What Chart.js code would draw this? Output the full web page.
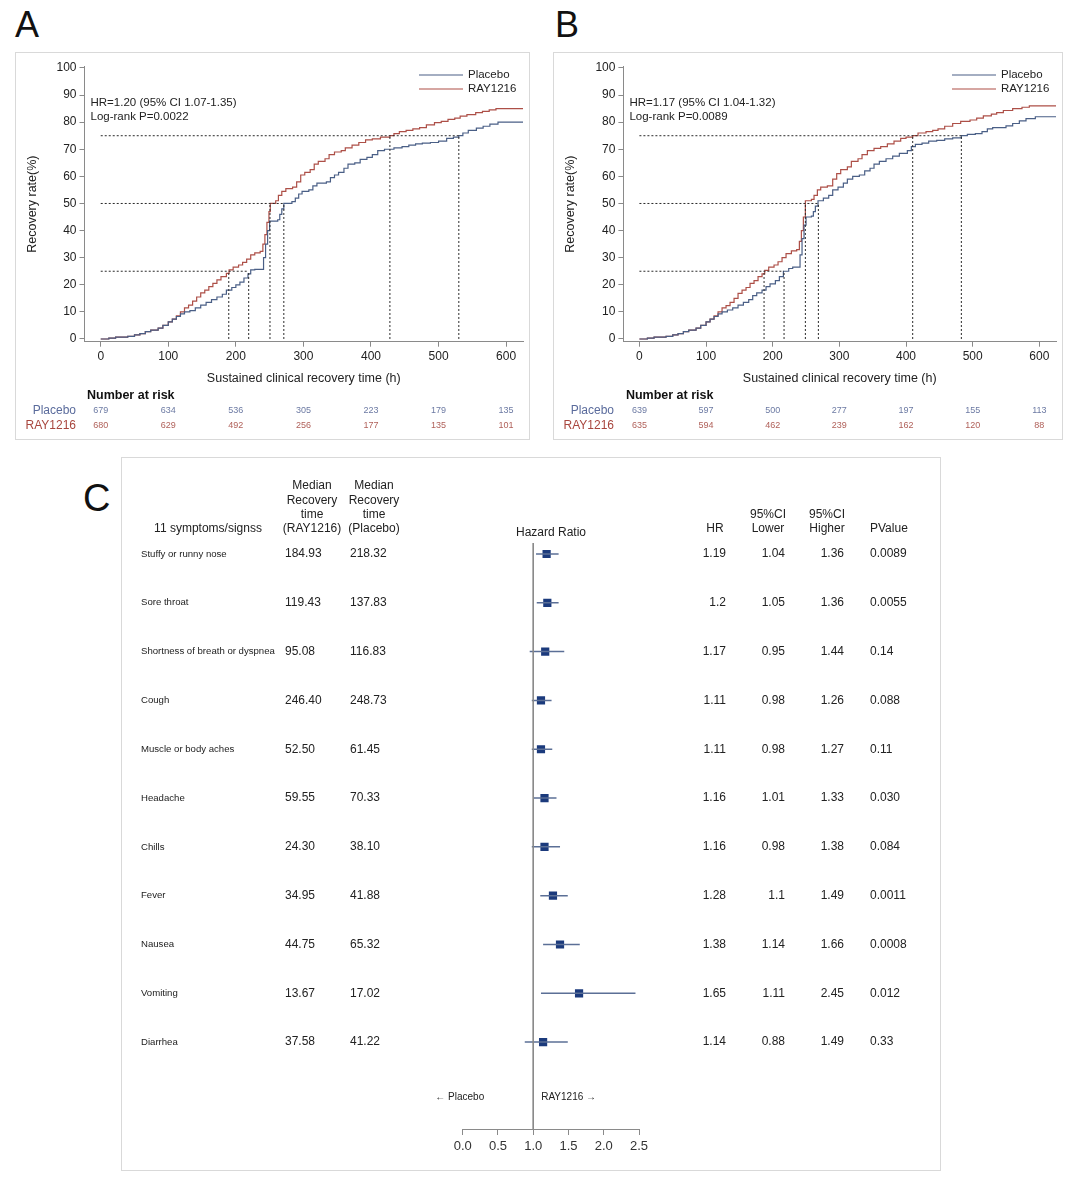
<!DOCTYPE html>
<html>
<head>
<meta charset="utf-8">
<script src="https://cdn.jsdelivr.net/npm/chart.js@4.4.1/dist/chart.umd.min.js"></script>
<style>
  body { margin: 0; background: #fff; font-family: "Liberation Sans", Arial, sans-serif; }
  #page { position: relative; width: 1080px; height: 1192px; overflow: hidden; }
  .letra { position: absolute; font-size: 36px; line-height: 36px; color: #111; }
  .painel { position: absolute; outline: 1px solid #d9d9d9; outline-offset: -1px; }
  .painel canvas { position: absolute; left: 0; top: 0; }
</style>
</head>
<body>
<div id="page">
  <div class="letra" style="left:15px; top:7px;">A</div>
  <div class="letra" style="left:555px; top:7px;">B</div>
  <div class="letra" style="left:83px; top:480px; font-size:38px;">C</div>

  <div class="painel" style="left:15px; top:52px; width:515px; height:388px;">
    <canvas id="chartA" width="515" height="388"></canvas>
  </div>
  <div class="painel" style="left:553px; top:52px; width:510px; height:388px;">
    <canvas id="chartB" width="510" height="388"></canvas>
  </div>
  <div class="painel" style="left:121px; top:457px; width:820px; height:714px;">
    <canvas id="chartC" width="820" height="714"></canvas>
  </div>
</div>

<script>
// =========================================
// DATA - PANELS A AND B (recovery curves)
// =========================================
const xTicks = [0, 100, 200, 300, 400, 500, 600];
const yTicks = [0, 10, 20, 30, 40, 50, 60, 70, 80, 90, 100];
const medianLevels = [25, 50, 75];

// Panel A - Placebo
const timePlaceboA = [0, 12, 22, 40, 50, 58, 66, 74, 85, 92, 100, 106, 112, 118, 124, 132, 140, 148, 156, 164, 172, 180, 186, 194, 200, 206, 212, 218, 222, 228, 238, 241, 244, 247, 250, 262, 265, 268, 271, 283, 288, 293, 298, 308, 314, 320, 334, 340, 346, 352, 360, 366, 376, 384, 394, 402, 410, 420, 434, 446, 456, 466, 476, 488, 500, 512, 522, 530, 536, 544, 556, 566, 576, 588, 625];
const ratePlaceboA = [0, 0.3, 0.7, 1, 1.5, 2, 2.7, 3.3, 4, 5, 6.3, 7.3, 8.3, 9.3, 10, 10.5, 11.5, 12.5, 13.5, 14.5, 15.5, 16.5, 18, 19, 20, 21, 22.5, 24, 25.5, 25.7, 25.7, 30, 35, 40, 43.5, 44, 46, 48, 50, 50.7, 52, 53.5, 54.5, 55, 56.5, 57.5, 58, 59.5, 60.5, 61.5, 63, 64.5, 65, 66.3, 67, 68, 69.5, 70, 70.5, 71, 71.5, 72, 72.3, 72.5, 73, 74, 74.5, 75, 76, 77, 77.8, 78.5, 79.3, 80, 80];

// Panel A - RAY1216
const timeRayA = [0, 12, 22, 40, 50, 58, 66, 74, 85, 92, 100, 106, 112, 118, 124, 130, 136, 142, 148, 154, 160, 166, 172, 178, 186, 190, 196, 204, 210, 216, 222, 228, 236, 240, 243, 246, 249, 251, 259, 263, 268, 274, 284, 290, 296, 302, 310, 316, 322, 332, 338, 346, 356, 362, 372, 382, 392, 402, 414, 428, 434, 442, 452, 462, 472, 482, 494, 504, 514, 524, 532, 542, 555, 565, 575, 585, 625];
const rateRayA = [0, 0.3, 0.7, 1, 1.5, 2, 2.7, 3.3, 4, 5, 6.3, 7.3, 8.5, 10, 11.5, 12.5, 14, 15.5, 17, 18, 19.3, 20.5, 21.8, 23, 24.2, 25.5, 26.5, 27.3, 28.3, 29.5, 31, 31.8, 32.3, 35, 38.5, 43, 47, 50, 51, 53, 54.5, 55.5, 56, 58, 60.5, 61.5, 62.5, 64.5, 65.5, 66.5, 68, 69, 69.5, 70.5, 71.5, 72.5, 73.5, 73.8, 74.5, 75, 75.8, 76.5, 77, 77.5, 78, 79, 79.8, 80.3, 81, 81.5, 82.2, 82.8, 83.5, 84, 84.5, 85, 85];

// Panel B - Placebo
const timePlaceboB = [0, 12, 22, 40, 50, 58, 66, 74, 85, 92, 100, 106, 112, 118, 124, 132, 140, 148, 156, 164, 170, 176, 184, 190, 196, 204, 210, 216, 224, 230, 238, 241, 244, 247, 250, 258, 261, 264, 268, 276, 284, 290, 298, 306, 312, 320, 330, 338, 346, 352, 360, 370, 380, 390, 402, 408, 414, 424, 434, 446, 458, 470, 483, 492, 504, 514, 522, 530, 540, 550, 560, 570, 580, 594, 625];
const ratePlaceboB = [0, 0.3, 0.7, 1, 1.5, 2, 2.7, 3.3, 4, 5, 6.3, 7.3, 8.3, 9.3, 10, 10.7, 11.5, 12.5, 13.5, 14.5, 16, 17, 18, 19.3, 20.3, 21.5, 23, 25, 26, 26.5, 26.5, 31, 37, 42, 45, 45.3, 47, 49, 51, 52, 53, 55, 56, 57.5, 59, 60, 60.5, 62, 63, 64.5, 65.5, 66.5, 67.5, 68.5, 69.5, 71, 71.8, 72.3, 73, 73.3, 73.8, 74.2, 75, 75.5, 75.8, 76.5, 77.5, 78, 78, 78.6, 79.5, 80.5, 81.3, 82, 82];

// Panel B - RAY1216
const timeRayB = [0, 12, 22, 40, 50, 58, 66, 74, 85, 92, 100, 106, 112, 118, 124, 130, 136, 142, 148, 154, 160, 166, 172, 178, 184, 188, 194, 202, 208, 214, 220, 228, 236, 240, 243, 246, 249, 258, 262, 267, 272, 282, 290, 296, 302, 312, 318, 328, 334, 342, 352, 362, 372, 382, 392, 400, 410, 418, 430, 440, 448, 458, 470, 482, 496, 506, 516, 528, 536, 546, 560, 574, 585, 625];
const rateRayB = [0, 0.3, 0.7, 1, 1.5, 2, 2.7, 3.3, 4, 5, 6.3, 7.3, 8.5, 10, 11.5, 12.3, 13.5, 15, 16.8, 18, 19, 20.5, 21.5, 23, 24, 25.3, 26.5, 27.3, 28.5, 30, 31.5, 32.5, 33, 36, 40, 45, 51, 51.5, 53, 55, 56, 56.5, 59, 61, 62.5, 63.5, 65.5, 66.5, 68, 69.5, 70.3, 71, 72, 73, 74, 74.5, 75, 76, 76.5, 77, 77.5, 78.5, 79.5, 80.3, 80.8, 81.5, 82.3, 83, 83.5, 84.3, 85, 85.5, 86, 86];

// Medians (time at 25%, 50%, 75%)
const medianRayA = [189.5, 250.5, 428];
const medianPlaceboA = [219, 271, 530];
const medianRayB = [187, 249, 410];
const medianPlaceboB = [217, 268.5, 483];

// Number at risk
const riskPlaceboA = [679, 634, 536, 305, 223, 179, 135];
const riskRayA = [680, 629, 492, 256, 177, 135, 101];
const riskPlaceboB = [639, 597, 500, 277, 197, 155, 113];
const riskRayB = [635, 594, 462, 239, 162, 120, 88];

// =========================================
// DATA - PANEL C (forest plot)
// =========================================
const symptoms = ["Stuffy or runny nose", "Sore throat", "Shortness of breath or dyspnea", "Cough", "Muscle or body aches", "Headache", "Chills", "Fever", "Nausea", "Vomiting", "Diarrhea"];
const medianTimeRay = ["184.93", "119.43", "95.08", "246.40", "52.50", "59.55", "24.30", "34.95", "44.75", "13.67", "37.58"];
const medianTimePlacebo = ["218.32", "137.83", "116.83", "248.73", "61.45", "70.33", "38.10", "41.88", "65.32", "17.02", "41.22"];
const hazardRatio = [1.19, 1.2, 1.17, 1.11, 1.11, 1.16, 1.16, 1.28, 1.38, 1.65, 1.14];
const ciLower = [1.04, 1.05, 0.95, 0.98, 0.98, 1.01, 0.98, 1.1, 1.14, 1.11, 0.88];
const ciHigher = [1.36, 1.36, 1.44, 1.26, 1.27, 1.33, 1.38, 1.49, 1.66, 2.45, 1.49];
const pValues = ["0.0089", "0.0055", "0.14", "0.088", "0.11", "0.030", "0.084", "0.0011", "0.0008", "0.012", "0.33"];
const hrTicks = [0, 0.5, 1, 1.5, 2, 2.5];

// =========================================
// STYLE
// =========================================
const FONTE = '"Liberation Sans", Arial, sans-serif';
const COR_PLACEBO = "#4a5f86";
const COR_RAY = "#ad4f47";
const COR_EIXO = "#8a8a8a";

const toPoints = (t, v) => t.map((x, i) => ({ x: x, y: v[i] }));

// =========================================
// KAPLAN-MEIER STYLE CHART (A and B)
// =========================================
function criarKM(id, cfg) {
    const el = document.getElementById(id);

    // dotted median guide lines
    const medianSets = [];
    medianLevels.forEach((lvl, i) => {
        const r = cfg.medRay[i];
        const p = cfg.medPla[i];
        const segs = [[[0, lvl], [Math.max(r, p), lvl]], [[r, 0], [r, lvl]], [[p, 0], [p, lvl]]];
        segs.forEach(seg => {
            medianSets.push({
                data: seg.map(([x, y]) => ({ x, y })),
                showLine: true, borderColor: "#2a2a2a", borderWidth: 1,
                borderDash: [2, 2], pointRadius: 0, fill: false
            });
        });
    });

    const textos = {
        id: "textosKM",
        afterDraw(chart) {
            const { ctx, chartArea } = chart;
            const x = chart.scales.x;
            ctx.save();
            ctx.textBaseline = "middle";

            // HR annotation
            ctx.fillStyle = "#222";
            ctx.font = "11.5px " + FONTE;
            ctx.textAlign = "left";
            ctx.fillText(cfg.hrText, chartArea.left + 6, 51);
            ctx.fillText(cfg.pText, chartArea.left + 6, 65);

            // legend
            const leg = [["Placebo", COR_PLACEBO, 23], ["RAY1216", COR_RAY, 37]];
            leg.forEach(([nome, cor, yy]) => {
                ctx.strokeStyle = cor;
                ctx.lineWidth = 1.2;
                ctx.beginPath();
                ctx.moveTo(chartArea.right - 104, yy);
                ctx.lineTo(chartArea.right - 60, yy);
                ctx.stroke();
                ctx.fillStyle = "#222";
                ctx.fillText(nome, chartArea.right - 55, yy);
            });

            // number at risk
            ctx.font = "bold 12.5px " + FONTE;
            ctx.fillStyle = "#111";
            ctx.fillText("Number at risk", chartArea.left + 2.5, 344);

            ctx.font = "12px " + FONTE;
            ctx.textAlign = "right";
            ctx.fillStyle = "#5a6b9c";
            ctx.fillText("Placebo", 61, 359);
            ctx.fillStyle = "#a8463e";
            ctx.fillText("RAY1216", 61, 374);

            ctx.font = "9px " + FONTE;
            ctx.textAlign = "center";
            xTicks.forEach((t, i) => {
                const px = x.getPixelForValue(t);
                ctx.fillStyle = "#6c7aa3";
                ctx.fillText(String(cfg.riskPla[i]), px, 359);
                ctx.fillStyle = "#b0615a";
                ctx.fillText(String(cfg.riskRay[i]), px, 374);
            });
            ctx.restore();
        }
    };

    new Chart(el, {
        type: "scatter",
        data: {
            datasets: [
                ...medianSets,
                {
                    label: "Placebo", data: cfg.placebo, showLine: true, stepped: "before",
                    borderColor: COR_PLACEBO, borderWidth: 1.2, pointRadius: 0, fill: false
                },
                {
                    label: "RAY1216", data: cfg.ray, showLine: true, stepped: "before",
                    borderColor: COR_RAY, borderWidth: 1.2, pointRadius: 0, fill: false
                }
            ]
        },
        options: {
            responsive: false,
            animation: false,
            layout: { padding: { top: 14.6, right: cfg.padRight, bottom: 48.3, left: 0 } },
            plugins: { legend: { display: false }, tooltip: { enabled: false } },
            scales: {
                x: {
                    type: "linear", min: -24, max: 625,
                    afterBuildTicks: s => { s.ticks = xTicks.map(v => ({ value: v })); },
                    afterFit: s => { s.height = 50; },
                    grid: { drawOnChartArea: false, color: COR_EIXO, tickLength: 5 },
                    border: { color: COR_EIXO },
                    ticks: { color: "#222", font: { size: 12, family: FONTE }, padding: 3, maxRotation: 0, autoSkip: false },
                    title: {
                        display: true, text: "Sustained clinical recovery time (h)", color: "#222",
                        font: { size: 12.5, family: FONTE }, padding: { top: 0, bottom: 5.5 }
                    }
                },
                y: {
                    type: "linear", min: -1, max: 100.5,
                    afterBuildTicks: s => { s.ticks = yTicks.map(v => ({ value: v })); },
                    afterFit: s => { s.width = cfg.yWidth; },
                    grid: { drawOnChartArea: false, color: COR_EIXO, tickLength: 5 },
                    border: { color: COR_EIXO },
                    ticks: { color: "#222", font: { size: 12, family: FONTE }, padding: 3 },
                    title: {
                        display: true, text: "Recovery rate(%)", color: "#222",
                        font: { size: 12.5, family: FONTE }, padding: { top: 10, bottom: 0 }
                    }
                }
            }
        },
        plugins: [textos]
    });
}

// =========================================
// FOREST PLOT (C)
// =========================================
function criarForest() {
    const el = document.getElementById("chartC");
    const yTopo = -0.225;
    const yBase = 11.78;

    const ciSets = symptoms.map((_, i) => ({
        data: [{ x: ciLower[i], y: i }, { x: ciHigher[i], y: i }],
        showLine: true, borderColor: "#5b6f96", borderWidth: 1.5, pointRadius: 0, fill: false
    }));

    const tabela = {
        id: "tabelaForest",
        afterDraw(chart) {
            const { ctx } = chart;
            const x = chart.scales.x;
            const y = chart.scales.y;
            ctx.save();
            ctx.fillStyle = "#222";
            ctx.textBaseline = "middle";

            // headers
            ctx.font = "12px " + FONTE;
            ctx.textAlign = "center";
            ctx.fillText("11 symptoms/signss", 87, 72);
            ["Median", "Recovery", "time", "(RAY1216)"].forEach((t, k) => ctx.fillText(t, 191, 29 + k * 14.3));
            ["Median", "Recovery", "time", "(Placebo)"].forEach((t, k) => ctx.fillText(t, 253, 29 + k * 14.3));
            ctx.fillText("Hazard Ratio", 430, 76);
            ctx.fillText("HR", 594, 72);
            ctx.fillText("95%CI", 647, 58);
            ctx.fillText("Lower", 647, 72);
            ctx.fillText("95%CI", 706, 58);
            ctx.fillText("Higher", 706, 72);
            ctx.textAlign = "left";
            ctx.fillText("PValue", 749, 72);

            // rows
            symptoms.forEach((nome, i) => {
                const py = y.getPixelForValue(i);
                ctx.textAlign = "left";
                ctx.font = "9.6px " + FONTE;
                ctx.fillText(nome, 20, py);
                ctx.font = "12px " + FONTE;
                ctx.fillText(medianTimeRay[i], 164, py);
                ctx.fillText(medianTimePlacebo[i], 229, py);
                ctx.fillText(pValues[i], 749, py);
                ctx.textAlign = "right";
                ctx.fillText(String(hazardRatio[i]), 605, py);
                ctx.fillText(String(ciLower[i]), 664, py);
                ctx.fillText(String(ciHigher[i]), 723, py);
            });

            // direction labels
            const p1 = x.getPixelForValue(1);
            ctx.font = "10px " + FONTE;
            ctx.textAlign = "right";
            ctx.fillText("\u2190 Placebo", p1 - 49, 640);
            ctx.textAlign = "left";
            ctx.fillText("RAY1216 \u2192", p1 + 8, 640);
            ctx.restore();
        }
    };

    new Chart(el, {
        type: "scatter",
        data: {
            datasets: [
                {
                    data: [{ x: 1, y: yTopo }, { x: 1, y: yBase }],
                    showLine: true, borderColor: "#888", borderWidth: 1, pointRadius: 0, fill: false
                },
                ...ciSets,
                {
                    data: hazardRatio.map((v, i) => ({ x: v, y: i })),
                    showLine: false, pointStyle: "rect", pointRadius: 5.8,
                    backgroundColor: "#1b3a7c", borderColor: "#1b3a7c", borderWidth: 0
                }
            ]
        },
        options: {
            responsive: false,
            animation: false,
            layout: { padding: { top: 86, right: 302, bottom: 2, left: 341.7 } },
            plugins: { legend: { display: false }, tooltip: { enabled: false } },
            scales: {
                x: {
                    type: "linear", min: 0, max: 2.5,
                    afterBuildTicks: s => { s.ticks = hrTicks.map(v => ({ value: v })); },
                    afterFit: s => { s.height = 40; },
                    grid: { drawOnChartArea: false, color: COR_EIXO, tickLength: 6 },
                    border: { color: COR_EIXO },
                    ticks: {
                        color: "#333", font: { size: 13, family: FONTE }, padding: 4,
                        maxRotation: 0, autoSkip: false, callback: v => Number(v).toFixed(1)
                    }
                },
                y: { type: "linear", display: false, min: yTopo, max: yBase, reverse: true }
            }
        },
        plugins: [tabela]
    });
}

// =========================================
// RUN
// =========================================
window.addEventListener("DOMContentLoaded", () => {
    criarKM("chartA", {
        placebo: toPoints(timePlaceboA, ratePlaceboA),
        ray: toPoints(timeRayA, rateRayA),
        medRay: medianRayA, medPla: medianPlaceboA,
        riskPla: riskPlaceboA, riskRay: riskRayA,
        hrText: "HR=1.20 (95% CI 1.07-1.35)", pText: "Log-rank P=0.0022",
        yWidth: 69.5, padRight: 7
    });
    criarKM("chartB", {
        placebo: toPoints(timePlaceboB, ratePlaceboB),
        ray: toPoints(timeRayB, rateRayB),
        medRay: medianRayB, medPla: medianPlaceboB,
        riskPla: riskPlaceboB, riskRay: riskRayB,
        hrText: "HR=1.17 (95% CI 1.04-1.32)", pText: "Log-rank P=0.0089",
        yWidth: 70.4, padRight: 7
    });
    criarForest();
});
</script>
</body>
</html>
